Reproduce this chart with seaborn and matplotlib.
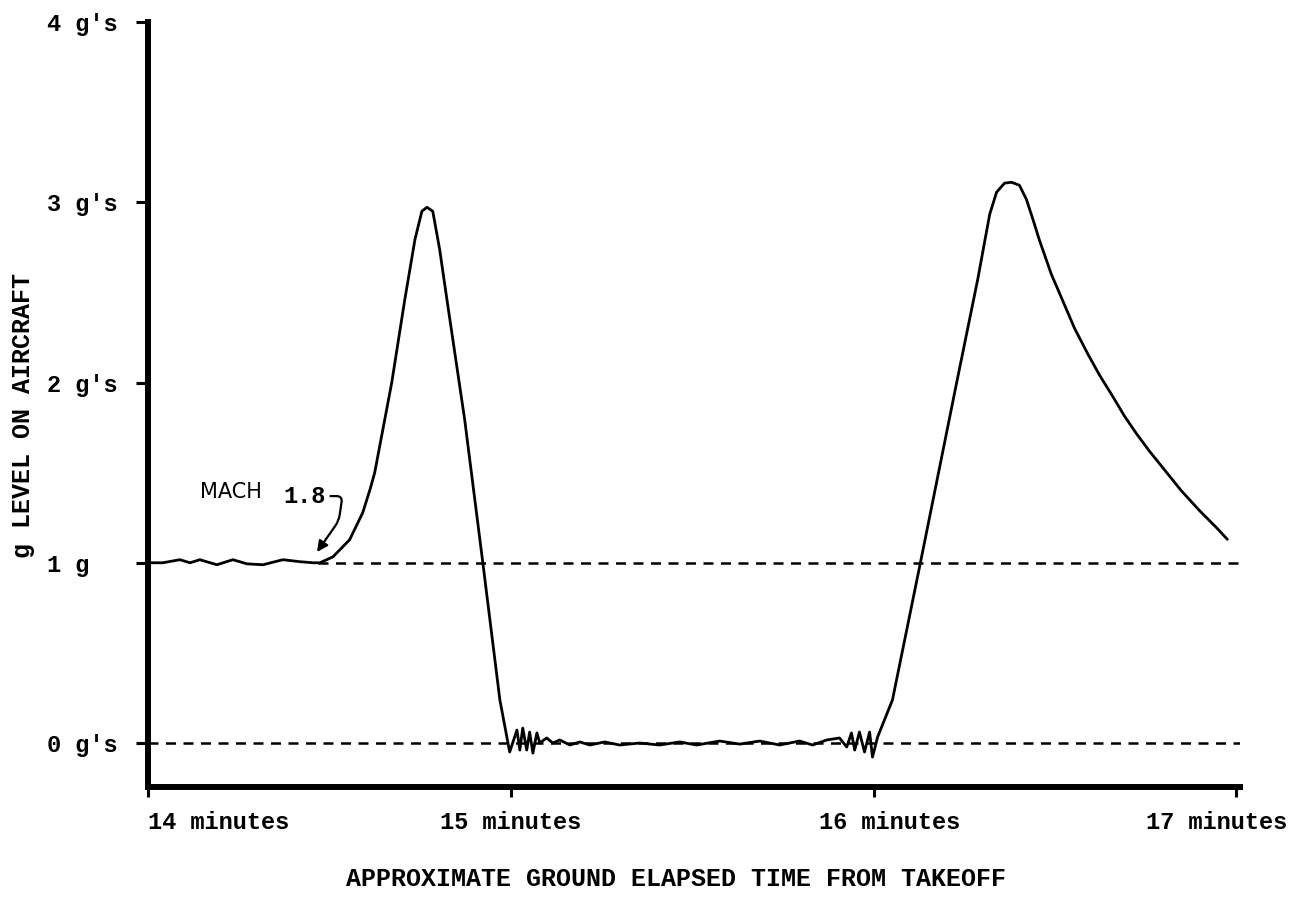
import seaborn as sns
import matplotlib.pyplot as plt
import matplotlib.transforms as mtransforms
import pandas as pd

# g level trace (minutes after takeoff, g)
minutes = [14.006, 14.041, 14.088, 14.116, 14.143, 14.190, 14.234, 14.273, 14.317, 14.372,
           14.419, 14.455, 14.474, 14.510, 14.556, 14.592, 14.612, 14.625, 14.672, 14.708,
           14.736, 14.755, 14.769, 14.785, 14.804, 14.824, 14.873, 14.923, 14.970, 14.997,
           15.017, 15.025, 15.033, 15.044, 15.052, 15.061, 15.072, 15.080, 15.099, 15.116,
           15.135, 15.163, 15.190, 15.218, 15.259, 15.300, 15.355, 15.410, 15.466, 15.512,
           15.576, 15.631, 15.686, 15.741, 15.796, 15.832, 15.871, 15.906, 15.926, 15.939,
           15.948, 15.961, 15.975, 15.989, 15.997, 16.011, 16.052, 16.129, 16.229, 16.287,
           16.320, 16.339, 16.361, 16.380, 16.402, 16.421, 16.440, 16.457, 16.490, 16.520,
           16.554, 16.590, 16.623, 16.660, 16.691, 16.725, 16.760, 16.800, 16.848, 16.898,
           16.945, 16.975]
g_level = [1.000, 1.000, 1.017, 1.000, 1.017, 0.989, 1.017, 0.994, 0.989, 1.017,
           1.006, 1.000, 1.000, 1.033, 1.128, 1.278, 1.406, 1.500, 2.000, 2.461,
           2.794, 2.950, 2.972, 2.950, 2.739, 2.461, 1.794, 1.000, 0.239, -0.050,
           0.072, -0.039, 0.083, -0.039, 0.061, -0.056, 0.056, 0.000, 0.028, 0.000,
           0.017, -0.011, 0.006, -0.011, 0.006, -0.011, 0.000, -0.011, 0.006, -0.011,
           0.011, -0.006, 0.011, -0.011, 0.011, -0.011, 0.017, 0.028, -0.022, 0.056,
           -0.039, 0.061, -0.050, 0.061, -0.078, 0.033, 0.239, 1.000, 2.000, 2.572,
           2.933, 3.056, 3.106, 3.111, 3.094, 3.017, 2.900, 2.790, 2.600, 2.460,
           2.300, 2.160, 2.040, 1.920, 1.815, 1.715, 1.620, 1.520, 1.400, 1.290,
           1.195, 1.130]

x_ticks = [14, 15, 16, 17]
x_labels = ["14 minutes", "15 minutes", "16 minutes", "17 minutes"]
y_ticks = [0, 1, 2, 3, 4]
y_labels = ["0 g's", "1 g", "2 g's", "3 g's", "4 g's"]

df = pd.DataFrame({"t": minutes, "g": g_level})

sns.set_style("ticks")
plt.rcParams["font.family"] = ["Liberation Mono", "DejaVu Sans"]
plt.rcParams["text.color"] = "black"
plt.rcParams["axes.labelcolor"] = "black"
plt.rcParams["xtick.color"] = "black"
plt.rcParams["ytick.color"] = "black"

fig = plt.figure(figsize=(13.15, 9.09), dpi=100)
ax = fig.add_axes([0.1125, 0.1342, 0.8305, 0.8416])

# reference lines for 1 g and 0 g
ax.plot([14.47, 17.01], [1, 1], color="black", lw=1.8, ls=(0, (4, 3)))
ax.plot([14.0, 17.01], [0, 0], color="black", lw=1.8, ls=(0, (4, 3)))

sns.lineplot(data=df, x="t", y="g", sort=False, estimator=None,
             color="black", lw=2.0, ax=ax)

ax.set_xlim(14, 17.01)
ax.set_ylim(-0.244, 4.0)

for s in ["top", "right"]:
    ax.spines[s].set_visible(False)
for s in ["left", "bottom"]:
    ax.spines[s].set_linewidth(4.3)
    ax.spines[s].set_color("black")

ax.set_xticks(x_ticks)
ax.set_xticklabels(x_labels, fontsize=17, fontweight="bold")
ax.set_yticks(y_ticks)
ax.set_yticklabels(y_labels, fontsize=17, fontweight="bold")
ax.tick_params(axis="x", bottom=True, direction="out", length=7, width=2.2, pad=10)
ax.tick_params(axis="y", left=True, direction="out", length=9, width=2.2, pad=64)
for lab in ax.get_yticklabels():
    lab.set_horizontalalignment("left")
xl = ax.get_xticklabels()
xl[0].set_horizontalalignment("left")
xl[2].set_transform(xl[2].get_transform() + mtransforms.ScaledTranslation(0.16, 0, fig.dpi_scale_trans))
xl[3].set_transform(xl[3].get_transform() + mtransforms.ScaledTranslation(-0.2, 0, fig.dpi_scale_trans))

ax.set_xlabel("APPROXIMATE GROUND ELAPSED TIME FROM TAKEOFF", fontsize=18, fontweight="bold")
ax.set_ylabel("g LEVEL ON AIRCRAFT", fontsize=18, fontweight="bold")
ax.xaxis.set_label_coords(0.4835, -0.105)
ax.yaxis.set_label_coords(-0.103, 0.485)

# MACH 1.8 call-out
ax.text(14.143, 1.39, "MACH", family="DejaVu Sans", fontsize=15, va="center")
ax.text(14.372, 1.37, "1.8", fontsize=17, fontweight="bold", va="center")
ax.annotate("", xy=(14.466, 1.06), xytext=(14.503, 1.37),
            arrowprops=dict(arrowstyle="-|>", color="black", lw=1.6,
                            mutation_scale=16, shrinkA=0, shrinkB=0,
                            connectionstyle="arc,angleA=0,angleB=55,armA=12,armB=38,rad=6"))

fig.savefig("out.png", dpi=100)
